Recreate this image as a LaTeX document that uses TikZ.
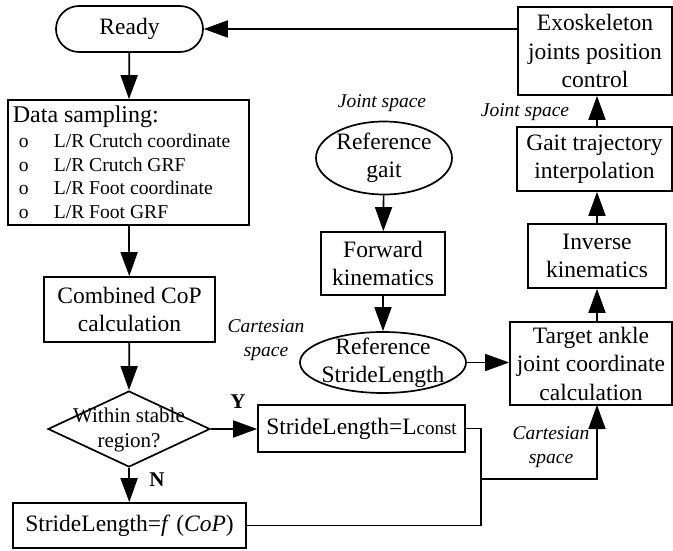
\documentclass[tikz,border=0pt]{standalone}
\usepackage{fontspec}
\setmainfont{Liberation Serif}
\usetikzlibrary{arrows.meta,shapes.geometric}
\begin{document}
\begin{tikzpicture}[x=1pt,y=-1pt, line width=1.7pt,
  every node/.style={font=\fontsize{23.5}{28.5}\selectfont, inner sep=0pt},
  box/.style={draw, rectangle, align=center},
  arr/.style={-{Triangle[length=24pt,width=17pt]}},
  lab/.style={font=\fontsize{19.5}{24}\selectfont\itshape, align=center},
  yn/.style={font=\fontsize{21}{24}\selectfont\bfseries},
  item/.style={anchor=base west, font=\fontsize{19.6}{24}\selectfont}]
\useasboundingbox (0,0) rectangle (673,551);

% left column
\node[box, rounded corners=23pt, minimum width=147pt, minimum height=46pt] (ready) at (129.5,29) {Ready};
\node[box, minimum width=241pt, minimum height=125pt] (data) at (128.5,162.5) {};
\node[anchor=base west, font=\fontsize{24}{28}\selectfont] (dtitle) at (12,123) {Data sampling:};
\foreach \y/\t [count=\i] in {148/{L/R Crutch coordinate}, 171.3/{L/R Crutch GRF}, 194.7/{L/R Foot coordinate}, 218/{L/R Foot GRF}} {
  \node[item] (bul\i) at (18,\y) {o};
  \node[item] (itm\i) at (53,\y) {\t};
}
\node[box, minimum width=171pt, minimum height=65pt] (comb) at (129.5,309.5) {Combined CoP\\calculation};
\node[draw, diamond, minimum width=162pt, minimum height=76pt, inner sep=0pt] (dia) at (129,429) {};
\node[font=\fontsize{21}{25}\selectfont, align=center] (diat) at (129,430) {Within stable\\region?};
\node[box, minimum width=233pt, minimum height=45pt] (fbox) at (129.5,525.5) {StrideLength=\textit{f}\ (\textit{CoP})};
\node[box, minimum width=207pt, minimum height=47pt] (lconst) at (361.5,428.5) {StrideLength=L{\fontsize{19}{24}\selectfont const}};

% middle column
\node[draw, ellipse, minimum width=136pt, minimum height=73pt] (refgait) at (384,158) {};
\node[align=center] (refgaitt) at (384,158) {Reference\\gait};
\node[box, minimum width=124pt, minimum height=63pt] (fwd) at (383,263.5) {Forward\\kinematics};
\node[draw, ellipse, minimum width=166pt, minimum height=61pt] (refsl) at (383,362.5) {};
\node[align=center] (refslt) at (383,363) {Reference\\StrideLength};

% right column
\node[box, minimum width=154pt, minimum height=88pt] (exo) at (595,51) {Exoskeleton\\joints position\\control};
\node[box, minimum width=155pt, minimum height=64pt] (gait) at (594.5,159) {Gait trajectory\\interpolation};
\node[box, minimum width=138pt, minimum height=64pt] (inv) at (597,256) {Inverse\\kinematics};
\node[box, minimum width=162pt, minimum height=83pt] (target) at (591,363.5) {Target ankle\\joint coordinate\\calculation};

% labels
\node[lab] (js1) at (382,103) {Joint space};
\node[lab] (js2) at (525,112) {Joint space};
\node[lab] (cs1) at (266,340) {Cartesian\\space};
\node[lab] (cs2) at (551,447) {Cartesian\\space};
\node[yn] (ylab) at (238,402) {Y};
\node[yn] (nlab) at (157,480) {N};

% connectors
\draw[arr] (ready) -- (data);
\draw[arr] (data) -- (comb);
\draw[arr] (comb) -- (dia.north);
\draw[arr] (dia.south) -- (fbox);
\draw[arr] (dia.east) -- (lconst.west |- dia.east);
\draw[arr] (refgait) -- (fwd);
\draw[arr] (fwd) -- (refsl);
\draw[arr] (refsl.east) -- (target.west |- refsl.east);
\coordinate (jn) at (481,479);
\coordinate (tb) at (597,405);
\draw (lconst.east) -| (jn) |- (fbox.east);
\draw[arr] (jn) -| (tb);
\draw[arr] (inv.south |- target.north) -- (inv.south);
\draw[arr] (inv.north) -- (inv.north |- gait.south);
\draw[arr] (inv.north |- gait.north) -- (inv.north |- exo.south);
\draw[arr] (exo.west |- ready.east) -- (ready.east);
\end{tikzpicture}
\end{document}
